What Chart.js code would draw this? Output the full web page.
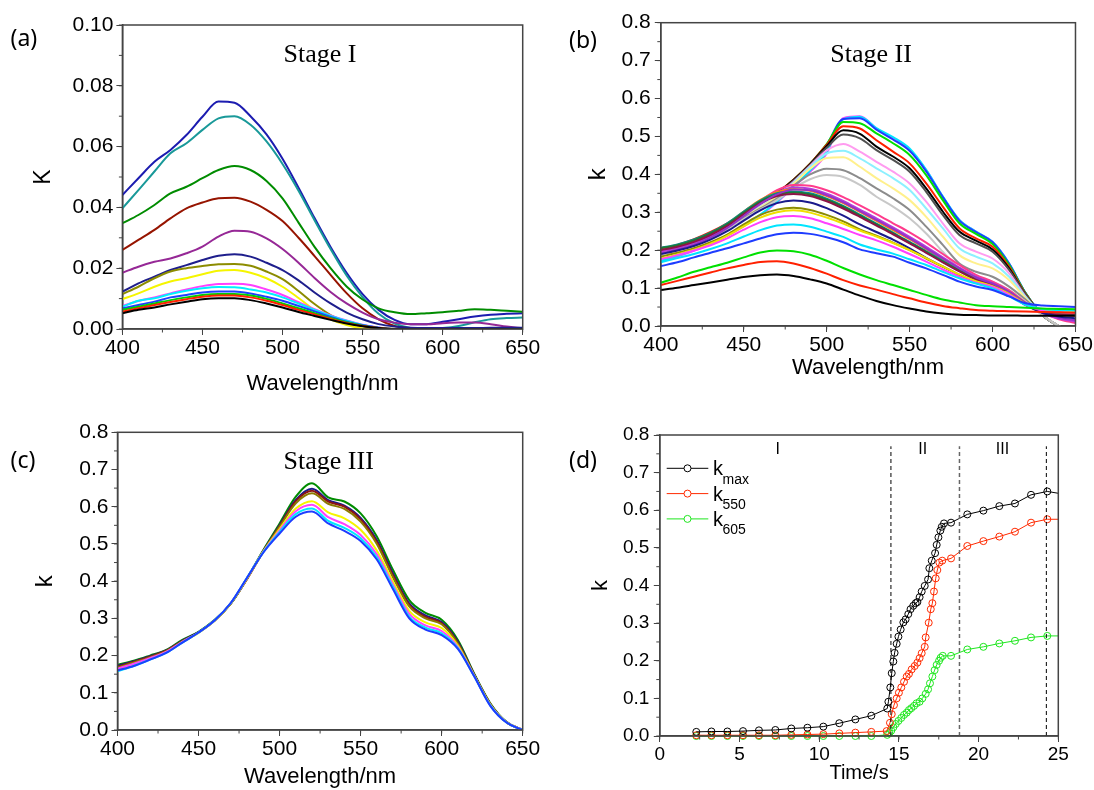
<!DOCTYPE html>
<html><head><meta charset="utf-8">
<script src="https://cdn.jsdelivr.net/npm/chart.js@4.4.1/dist/chart.umd.min.js"></script>
<style>
html,body{margin:0;padding:0;background:#fff;}
#wrap{position:relative;width:1094px;height:790px;overflow:hidden;background:#fff;}
canvas{position:absolute;}
</style></head><body>
<div id="wrap">
<canvas id="ca" width="547" height="400" style="left:0px;top:0px"></canvas>
<canvas id="cb" width="547" height="400" style="left:547px;top:0px"></canvas>
<canvas id="cc" width="547" height="400" style="left:0px;top:390px"></canvas>
<canvas id="cd" width="547" height="400" style="left:547px;top:390px"></canvas>
</div>
<script>
// ---------- DATA ----------
const WL = [400,410,420,430,440,450,460,470,480,490,500,510,520,530,540,550,560,570,580,590,600,610,620,630,640,650];

// (a) Stage I
const aBlack  = [0.0052,0.0063,0.0071,0.0081,0.0090,0.0098,0.0101,0.0101,0.0095,0.0084,0.0071,0.0056,0.0043,0.0030,0.0018,0.0009,0.0003,0,0,0,0,0,0,0,0,0];
const aRed    = [0.0057,0.0068,0.0079,0.0089,0.0098,0.0106,0.0110,0.0110,0.0104,0.0093,0.0079,0.0063,0.0048,0.0033,0.0020,0.0010,0.0003,0,0,0,0,0,0,0,0,0];
const aGreen2 = [0.0063,0.0073,0.0084,0.0095,0.0104,0.0112,0.0115,0.0115,0.0110,0.0099,0.0084,0.0068,0.0052,0.0036,0.0022,0.0011,0.0003,0,0,0,0,0,0,0,0,0];
const aBlue2  = [0.0068,0.0079,0.0090,0.0104,0.0112,0.0120,0.0123,0.0123,0.0117,0.0106,0.0093,0.0076,0.0058,0.0040,0.0024,0.0012,0.0004,0,0,0,0,0,0,0,0,0];
const aCyan   = [0.0073,0.0093,0.0101,0.0115,0.0126,0.0134,0.0138,0.0137,0.0130,0.0120,0.0104,0.0084,0.0063,0.0043,0.0027,0.0013,0.0004,0,0,0,0,0,0,0,0,0];
const aMagenta= [0.0076,0.0092,0.0104,0.0117,0.0130,0.0141,0.0148,0.0149,0.0145,0.0130,0.0112,0.0088,0.0065,0.0045,0.0028,0.0014,0.0005,0,0,0,0,0,0,0,0,0];
const aYellow = [0.0098,0.0117,0.0139,0.0156,0.0167,0.0180,0.0192,0.0194,0.0185,0.0167,0.0139,0.0102,0.0062,0.0032,0.0013,0.0002,0,0,0,0,0,0,0,0,0,0];
const aOlive  = [0.0115,0.0139,0.0167,0.0189,0.0200,0.0207,0.0213,0.0214,0.0208,0.0189,0.0164,0.0125,0.0082,0.0046,0.0024,0.0010,0.0002,0,0,0,0,0,0,0,0,0];
const aNavy   = [0.0123,0.0150,0.0172,0.0194,0.0210,0.0227,0.0241,0.0246,0.0238,0.0218,0.0194,0.0160,0.0120,0.0084,0.0054,0.0032,0.0016,0.0008,0.0004,0.0003,0.0003,0.0003,0.0003,0.0004,0.0004,0.0004];
const aPurple = [0.0185,0.0205,0.0221,0.0232,0.0249,0.0271,0.0304,0.0323,0.0320,0.0298,0.0263,0.0218,0.0168,0.0122,0.0084,0.0054,0.0032,0.0021,0.0016,0.0016,0.0019,0.0021,0.0021,0.0016,0.0008,0.0002];
const aDkRed  = [0.0260,0.0293,0.0326,0.0364,0.0397,0.0416,0.0430,0.0432,0.0419,0.0392,0.0355,0.0300,0.0240,0.0178,0.0118,0.0068,0.0032,0.0010,0.0002,0,0,0,0,0,0,0];
const aGreen  = [0.0348,0.0375,0.0408,0.0446,0.0468,0.0496,0.0523,0.0536,0.0523,0.0487,0.0430,0.0350,0.0270,0.0200,0.0140,0.0097,0.0068,0.0055,0.0049,0.0052,0.0055,0.0060,0.0065,0.0063,0.0060,0.0057];
const aTeal   = [0.0397,0.0457,0.0518,0.0578,0.0611,0.0655,0.0693,0.0700,0.0672,0.0617,0.0543,0.0455,0.0358,0.0263,0.0176,0.0105,0.0050,0.0018,0.0003,0.0000,0.0003,0.0010,0.0022,0.0032,0.0036,0.0038];
const aBlue   = [0.0441,0.0496,0.0550,0.0589,0.0638,0.0698,0.0748,0.0744,0.0700,0.0640,0.0560,0.0465,0.0365,0.0270,0.0185,0.0115,0.0063,0.0030,0.0016,0.0016,0.0024,0.0032,0.0041,0.0047,0.0050,0.0052];

// (b) Stage II
const bBlack   = [0.095,0.101,0.108,0.115,0.122,0.129,0.134,0.136,0.132,0.123,0.112,0.096,0.080,0.066,0.055,0.046,0.038,0.033,0.030,0.029,0.028,0.028,0.027,0.027,0.027,0.027];
const bRed     = [0.108,0.119,0.130,0.141,0.152,0.161,0.169,0.171,0.165,0.153,0.138,0.121,0.107,0.096,0.084,0.073,0.062,0.053,0.047,0.042,0.040,0.039,0.038,0.037,0.036,0.035];
const bGreen   = [0.114,0.128,0.143,0.155,0.167,0.181,0.194,0.199,0.197,0.188,0.172,0.153,0.136,0.121,0.108,0.095,0.082,0.070,0.062,0.055,0.052,0.050,0.048,0.046,0.045,0.044];
const bBlue    = [0.158,0.168,0.181,0.193,0.205,0.218,0.231,0.242,0.246,0.243,0.234,0.221,0.202,0.192,0.183,0.167,0.152,0.135,0.117,0.104,0.095,0.078,0.060,0.054,0.052,0.050];
const bCyan    = [0.168,0.179,0.190,0.203,0.218,0.236,0.253,0.265,0.268,0.262,0.249,0.235,0.215,0.202,0.191,0.176,0.161,0.143,0.126,0.112,0.099,0.078,0.056,0.045,0.042,0.041];
const bMagenta = [0.176,0.187,0.199,0.213,0.231,0.254,0.274,0.287,0.290,0.284,0.271,0.256,0.240,0.226,0.209,0.190,0.170,0.149,0.130,0.114,0.103,0.082,0.056,0.040,0.036,0.035];
const bYellow  = [0.178,0.189,0.201,0.217,0.238,0.263,0.286,0.300,0.305,0.299,0.286,0.270,0.252,0.236,0.219,0.200,0.179,0.157,0.136,0.118,0.105,0.085,0.058,0.042,0.038,0.037];
const bOlive   = [0.183,0.193,0.205,0.221,0.241,0.268,0.293,0.307,0.312,0.306,0.293,0.276,0.255,0.238,0.220,0.200,0.178,0.156,0.135,0.117,0.104,0.084,0.058,0.042,0.040,0.039];
const bNavy    = [0.190,0.199,0.211,0.228,0.250,0.278,0.305,0.324,0.331,0.326,0.311,0.291,0.268,0.248,0.228,0.205,0.180,0.157,0.135,0.116,0.103,0.083,0.055,0.035,0.025,0.020];
const bPurple  = [0.192,0.201,0.214,0.233,0.258,0.290,0.322,0.347,0.360,0.358,0.345,0.326,0.303,0.280,0.256,0.231,0.205,0.178,0.152,0.128,0.112,0.090,0.060,0.036,0.022,0.015];
const bWine    = [0.200,0.209,0.222,0.240,0.264,0.295,0.324,0.343,0.348,0.343,0.329,0.310,0.288,0.265,0.242,0.218,0.193,0.168,0.144,0.122,0.107,0.087,0.058,0.036,0.030,0.028];
const bDkGreen = [0.205,0.213,0.226,0.244,0.268,0.299,0.328,0.347,0.352,0.347,0.333,0.314,0.291,0.268,0.244,0.220,0.195,0.170,0.146,0.124,0.109,0.088,0.058,0.036,0.032,0.030];
const bDkCyan  = [0.206,0.215,0.228,0.246,0.271,0.302,0.331,0.350,0.355,0.350,0.336,0.317,0.294,0.270,0.246,0.222,0.197,0.172,0.148,0.126,0.110,0.089,0.059,0.036,0.033,0.032];
const bOrange  = [0.203,0.212,0.225,0.244,0.269,0.302,0.333,0.353,0.361,0.357,0.343,0.324,0.301,0.277,0.253,0.229,0.203,0.176,0.150,0.127,0.111,0.090,0.060,0.036,0.030,0.028];
const bViolet  = [0.196,0.205,0.218,0.237,0.262,0.295,0.327,0.352,0.365,0.362,0.349,0.330,0.307,0.284,0.260,0.235,0.209,0.181,0.154,0.130,0.113,0.091,0.060,0.035,0.020,0.012];
const bPink    = [0.198,0.207,0.220,0.239,0.264,0.297,0.330,0.358,0.372,0.370,0.358,0.340,0.318,0.295,0.271,0.247,0.220,0.190,0.161,0.135,0.117,0.094,0.062,0.035,0.018,0.008];
const bLtGray    = [0.185,0.199,0.214,0.232,0.255,0.282,0.307,0.332,0.363,0.387,0.398,0.393,0.372,0.341,0.315,0.284,0.244,0.196,0.152,0.130,0.117,0.095,0.064,0.029,0.000,-0.020];
const bGray      = [0.188,0.202,0.217,0.235,0.258,0.285,0.310,0.336,0.370,0.400,0.415,0.411,0.390,0.363,0.337,0.306,0.262,0.214,0.165,0.143,0.130,0.104,0.069,0.029,0.000,-0.020];
const bLtYellow  = [0.190,0.204,0.219,0.237,0.260,0.287,0.313,0.341,0.375,0.415,0.443,0.445,0.420,0.390,0.363,0.332,0.288,0.236,0.187,0.165,0.152,0.121,0.073,0.029,0.000,-0.020];
const bLtCyan    = [0.191,0.205,0.220,0.238,0.261,0.288,0.315,0.343,0.378,0.420,0.455,0.462,0.442,0.416,0.390,0.359,0.310,0.258,0.205,0.183,0.165,0.130,0.076,0.029,0.000,-0.020];
const bLtMagenta = [0.192,0.206,0.221,0.239,0.262,0.289,0.316,0.345,0.380,0.422,0.463,0.480,0.460,0.433,0.407,0.376,0.328,0.271,0.218,0.196,0.178,0.139,0.077,0.029,0.000,-0.020];
const bDkGray    = [0.195,0.209,0.224,0.242,0.265,0.292,0.319,0.348,0.383,0.425,0.470,0.505,0.495,0.464,0.438,0.407,0.354,0.293,0.240,0.218,0.196,0.148,0.082,0.029,0.000,-0.020];
const bBlack2    = [0.200,0.212,0.227,0.245,0.268,0.295,0.322,0.350,0.385,0.427,0.475,0.516,0.507,0.473,0.447,0.416,0.363,0.302,0.249,0.225,0.202,0.152,0.082,0.029,0.000,-0.020];
const bRed2      = [0.205,0.214,0.229,0.248,0.271,0.297,0.324,0.352,0.386,0.428,0.478,0.527,0.521,0.490,0.460,0.429,0.376,0.315,0.258,0.231,0.209,0.156,0.084,0.029,0.000,-0.020];
const bGreen2    = [0.200,0.212,0.227,0.246,0.269,0.296,0.323,0.351,0.386,0.428,0.480,0.538,0.535,0.508,0.482,0.451,0.398,0.332,0.271,0.243,0.216,0.161,0.086,0.029,0.000,-0.020];
const bBlue2     = [0.190,0.203,0.218,0.237,0.260,0.288,0.317,0.347,0.383,0.425,0.478,0.546,0.548,0.518,0.492,0.462,0.408,0.340,0.278,0.248,0.221,0.164,0.086,0.029,0.000,-0.020];
const bCyan2     = [0.172,0.185,0.200,0.218,0.240,0.265,0.294,0.328,0.368,0.410,0.460,0.545,0.552,0.522,0.498,0.468,0.412,0.342,0.280,0.249,0.222,0.165,0.086,0.029,0.000,-0.020];
const bMagenta2  = [0.170,0.183,0.198,0.216,0.238,0.263,0.292,0.326,0.366,0.407,0.455,0.548,0.553,0.521,0.495,0.464,0.411,0.341,0.280,0.249,0.222,0.165,0.086,0.029,0.000,-0.020];

// (c) Stage III
const cBlue    = [0.160,0.172,0.189,0.207,0.235,0.262,0.295,0.342,0.410,0.477,0.528,0.573,0.587,0.555,0.535,0.508,0.458,0.378,0.300,0.270,0.255,0.218,0.145,0.065,0.020,0.0];
const cCyan    = [0.158,0.172,0.189,0.207,0.235,0.262,0.295,0.342,0.410,0.478,0.532,0.580,0.595,0.562,0.543,0.515,0.464,0.384,0.305,0.275,0.260,0.220,0.145,0.066,0.020,0.0];
const cMagenta = [0.165,0.178,0.193,0.210,0.237,0.262,0.295,0.342,0.409,0.479,0.536,0.588,0.605,0.572,0.553,0.524,0.472,0.390,0.312,0.281,0.266,0.223,0.146,0.067,0.021,0.0];
const cYellow  = [0.163,0.176,0.191,0.209,0.236,0.261,0.294,0.341,0.408,0.480,0.540,0.595,0.615,0.585,0.569,0.538,0.482,0.398,0.320,0.289,0.274,0.227,0.147,0.068,0.021,0.0];
const cOlive   = [0.168,0.181,0.195,0.212,0.238,0.262,0.294,0.340,0.407,0.480,0.546,0.609,0.636,0.608,0.594,0.560,0.500,0.410,0.332,0.300,0.284,0.232,0.148,0.070,0.021,0.0];
const cWine    = [0.170,0.183,0.197,0.213,0.239,0.262,0.294,0.340,0.406,0.480,0.548,0.615,0.643,0.614,0.600,0.566,0.505,0.415,0.336,0.304,0.287,0.234,0.149,0.070,0.021,0.0];
const cNavy    = [0.172,0.184,0.198,0.214,0.240,0.263,0.295,0.341,0.408,0.482,0.550,0.618,0.648,0.618,0.603,0.570,0.510,0.420,0.340,0.308,0.290,0.237,0.150,0.070,0.021,0.0];
const cGreen   = [0.175,0.186,0.200,0.215,0.242,0.264,0.296,0.340,0.408,0.484,0.555,0.627,0.663,0.625,0.614,0.582,0.520,0.430,0.349,0.315,0.296,0.242,0.152,0.072,0.022,0.0];

// (d) k vs time
const dTimeMax = [2.29,3.24,4.24,5.22,6.22,7.25,8.25,9.26,10.26,11.26,12.27,13.27,14.27,14.34,14.46,14.55,14.65,14.73,14.86,14.97,15.11,15.28,15.42,15.59,15.73,15.9,16.05,16.16,16.3,16.43,16.62,16.83,16.91,17.06,17.27,17.37,17.48,17.6,17.69,17.83,18.27,19.29,20.3,21.3,22.28,23.29,24.31,25.3];
const dKmax    = [0.011,0.012,0.012,0.013,0.015,0.016,0.020,0.022,0.025,0.034,0.044,0.054,0.073,0.091,0.129,0.167,0.198,0.221,0.245,0.264,0.283,0.302,0.310,0.324,0.337,0.346,0.353,0.356,0.369,0.384,0.399,0.416,0.446,0.466,0.486,0.508,0.528,0.546,0.556,0.565,0.567,0.589,0.599,0.611,0.618,0.641,0.650,0.643];
const dTime550 = [2.29,3.24,4.24,5.22,6.22,7.25,8.25,9.26,10.26,11.26,12.27,13.27,14.23,14.44,14.55,14.69,14.86,15.0,15.15,15.32,15.49,15.63,15.8,15.99,16.16,16.3,16.43,16.62,16.68,16.87,17.0,17.1,17.2,17.31,17.41,17.54,17.72,18.27,19.29,20.3,21.3,22.28,23.29,24.31,25.3];
const dK550    = [0.002,0.002,0.002,0.002,0.002,0.002,0.003,0.004,0.005,0.007,0.009,0.011,0.013,0.035,0.058,0.082,0.100,0.115,0.129,0.144,0.158,0.165,0.177,0.186,0.195,0.207,0.220,0.237,0.262,0.301,0.337,0.353,0.384,0.419,0.441,0.461,0.466,0.472,0.505,0.518,0.530,0.543,0.567,0.576,0.576];
const dTime605 = [2.29,3.24,4.24,5.22,6.22,7.25,8.25,9.26,10.26,11.26,12.27,13.27,14.27,14.4,14.52,14.65,14.8,14.97,15.15,15.32,15.49,15.63,15.78,15.95,16.11,16.3,16.47,16.68,16.83,16.95,17.1,17.24,17.37,17.52,17.62,17.75,18.27,19.29,20.3,21.3,22.28,23.29,24.31,25.3];
const dK605    = [0,0,0,0,0,0,0,0,0,0,0,0,0.003,0.007,0.014,0.023,0.032,0.040,0.048,0.056,0.062,0.069,0.074,0.080,0.087,0.091,0.100,0.112,0.124,0.140,0.158,0.175,0.189,0.200,0.208,0.213,0.213,0.230,0.237,0.246,0.253,0.262,0.266,0.266];
const dStageBounds = [14.5, 18.8, 24.25];
const dStageTop = 0.77;
const dStageNames = ['I','II','III'];
const dStageNameX = [7.4, 16.5, 21.5];
const dStageNameY = 0.76;

// ---------- STYLE ----------
const AX = '#444';
const SANS = "'Liberation Sans', Arial, sans-serif";
const SERIF = "'Liberation Serif', 'Times New Roman', serif";
const LBL = "'Noto Sans', 'Open Sans', sans-serif";

const boxPlugin = {
  id: 'box',
  afterDraw(chart, args, o) {
    const {ctx, chartArea: a, scales} = chart;
    const x = scales.x, y = scales.y;
    ctx.save();
    ctx.strokeStyle = AX;
    ctx.lineWidth = 1;
    ctx.beginPath();
    const nx = Math.round((x.max - x.min) / o.xMinor);
    for (let i = 0; i <= nx; i++) {
      const px = x.getPixelForValue(x.min + i * o.xMinor);
      ctx.moveTo(px, a.bottom); ctx.lineTo(px, a.bottom + 3.5);
    }
    const ny = Math.round((y.max - y.min) / o.yMinor);
    for (let i = 0; i <= ny; i++) {
      const py = y.getPixelForValue(y.min + i * o.yMinor);
      ctx.moveTo(a.left, py); ctx.lineTo(a.left - 3.5, py);
    }
    ctx.stroke();
    ctx.lineWidth = 1.5;
    ctx.strokeRect(a.left, a.top, a.right - a.left, a.bottom - a.top);
    ctx.fillStyle = '#000';
    ctx.textBaseline = 'alphabetic';
    (o.texts || []).forEach(t => {
      ctx.font = t.font; ctx.textAlign = t.align || 'left';
      ctx.fillText(t.text, t.x, t.y);
    });
    (o.dataTexts || []).forEach(t => {
      ctx.font = t.font; ctx.textAlign = 'center'; ctx.textBaseline = 'middle';
      ctx.fillText(t.text, x.getPixelForValue(t.x), y.getPixelForValue(t.y));
    });
    if (o.legend) {
      const L = o.legend;
      L.rows.forEach((r, i) => {
        const yy = L.y + i * L.dy;
        ctx.strokeStyle = r.color; ctx.lineWidth = 1;
        ctx.beginPath();
        ctx.moveTo(L.x0, yy); ctx.lineTo(L.cx - L.r, yy);
        ctx.moveTo(L.cx + L.r, yy); ctx.lineTo(L.x1, yy);
        ctx.stroke();
        ctx.beginPath(); ctx.arc(L.cx, yy, L.r, 0, Math.PI * 2); ctx.stroke();
        ctx.fillStyle = '#000'; ctx.textAlign = 'left'; ctx.textBaseline = 'alphabetic';
        ctx.font = L.font; ctx.fillText(r.label, L.tx, yy + 7);
        ctx.font = L.subFont; ctx.fillText(r.sub, L.tx + 9.5, yy + 15.5);
      });
    }
    ctx.restore();
  }
};

function axisCommon(font, pad) {
  return {
    grid: {drawOnChartArea: false, drawTicks: true, tickLength: 6, color: AX, lineWidth: 1},
    border: {display: true, color: AX, width: 1.5},
    ticks: {font: {family: SANS, size: font}, color: '#000', padding: pad, autoSkip: false, maxRotation: 0}
  };
}

function makeChart(id, g, datasets, sc, boxOpts) {
  const xc = axisCommon(sc.xFont, sc.xPad);
  const yc = axisCommon(sc.yFont, sc.yPad);
  return new Chart(document.getElementById(id), {
    type: 'line',
    data: {datasets},
    options: {
      responsive: false, animation: false, devicePixelRatio: 1, events: [],
      layout: {padding: {left: 0, top: g.top, right: g.right, bottom: 0}},
      plugins: {legend: {display: false}, tooltip: {enabled: false}, box: boxOpts},
      scales: {
        x: Object.assign(xc, {
          type: 'linear', min: sc.xMin, max: sc.xMax,
          afterFit: s => { s.height = g.xh; },
          ticks: Object.assign(xc.ticks, {stepSize: sc.xStep}),
          title: {display: true, text: sc.xTitle, color: '#000', font: {family: SANS, size: sc.xtSize}, padding: {top: 0, bottom: sc.xtPad}}
        }),
        y: Object.assign(yc, {
          type: 'linear', min: sc.yMin, max: sc.yMax,
          afterFit: s => { s.width = g.left; },
          ticks: Object.assign(yc.ticks, {stepSize: sc.yStep, callback: v => v.toFixed(sc.yDec)}),
          title: {display: true, text: sc.yTitle, color: '#000', font: {family: SANS, size: sc.ytSize}, padding: {top: sc.ytPad, bottom: 0}}
        })
      }
    },
    plugins: [boxPlugin]
  });
}

function spec(series) {
  return series.map(s => ({
    data: WL.map((w, i) => ({x: w, y: s[0][i]})),
    borderColor: s[1], borderWidth: 2, pointRadius: 0, fill: false,
    cubicInterpolationMode: 'monotone'
  }));
}

// (a)
makeChart('ca', {top: 25, right: 24.3, left: 122.4, xh: 71},
  spec([[aBlack,'#000000'],[aRed,'#ff2000'],[aGreen2,'#00d000'],[aBlue2,'#2040ff'],[aCyan,'#00f0ff'],[aMagenta,'#ff40ff'],
        [aYellow,'#f5f500'],[aOlive,'#8c8c00'],[aNavy,'#1e1e8c'],[aPurple,'#962896'],[aDkRed,'#961400'],[aGreen,'#008c00'],
        [aTeal,'#199999'],[aBlue,'#1c1cb0']]),
  {xMin: 400, xMax: 650, xStep: 50, yMin: 0, yMax: 0.1, yStep: 0.02, yDec: 2, xFont: 21, yFont: 21, xPad: 1, yPad: 3,
   xTitle: 'Wavelength/nm', xtSize: 22, xtPad: 2.8, yTitle: 'K', ytSize: 23, ytPad: 29.9},
  {xMinor: 25, yMinor: 0.01, texts: [
    {text: '(a)', x: 10.5, y: 46, font: "23px " + LBL},
    {text: 'Stage I', x: 320, y: 62, font: "26px " + SERIF, align: 'center'}]});

// (b)
makeChart('cb', {top: 22.7, right: 18, left: 113.8, xh: 74},
  spec([[bBlack,'#000000'],[bRed,'#ff2000'],[bGreen,'#00e000'],[bBlue,'#1e3cff'],[bCyan,'#00e5ff'],[bMagenta,'#ff40ff'],
        [bYellow,'#f0e000'],[bOlive,'#8c8c00'],[bNavy,'#1a1a8c'],[bPurple,'#9632c8'],[bWine,'#8c1446'],[bDkGreen,'#1e7832'],
        [bDkCyan,'#0a8c8c'],[bOrange,'#ff8c00'],[bViolet,'#b43cdc'],[bPink,'#ff3c8c'],
        [bLtGray,'#c8c8c8'],[bGray,'#8c8c8c'],[bLtYellow,'#fff08c'],[bLtCyan,'#8cf0ff'],[bLtMagenta,'#ff9cf0'],[bDkGray,'#505050'],
        [bBlack2,'#000000'],[bRed2,'#ff2000'],[bGreen2,'#00e000'],[bBlue2,'#1e3cff'],[bCyan2,'#00e5ff'],[bMagenta2,'#ff40ff']]),
  {xMin: 400, xMax: 650, xStep: 50, yMin: 0, yMax: 0.8, yStep: 0.1, yDec: 1, xFont: 21, yFont: 21, xPad: 1, yPad: 4,
   xTitle: 'Wavelength/nm', xtSize: 22, xtPad: 19.3, yTitle: 'k', ytSize: 24, ytPad: 36.6},
  {xMinor: 25, yMinor: 0.05, texts: [
    {text: '(b)', x: 22, y: 48, font: "23px " + LBL},
    {text: 'Stage II', x: 324, y: 62, font: "26px " + SERIF, align: 'center'}]});

// (c)
makeChart('cc', {top: 42.3, right: 24.3, left: 117.5, xh: 60},
  spec([[cBlue,'#1e3cff'],[cCyan,'#00e8ff'],[cMagenta,'#ff40ff'],[cYellow,'#f5f500'],[cOlive,'#8c7a00'],
        [cWine,'#8c1414'],[cNavy,'#1a1a8c'],[cGreen,'#008c00']]),
  {xMin: 400, xMax: 650, xStep: 50, yMin: 0, yMax: 0.8, yStep: 0.1, yDec: 1, xFont: 21, yFont: 21, xPad: 1, yPad: 3,
   xTitle: 'Wavelength/nm', xtSize: 22, xtPad: 0, yTitle: 'k', ytSize: 24, ytPad: 31.1},
  {xMinor: 25, yMinor: 0.05, texts: [
    {text: '(c)', x: 10.5, y: 78, font: "23px " + LBL},
    {text: 'Stage III', x: 328.7, y: 79, font: "26px " + SERIF, align: 'center'}]});

// (d)
function series(t, k, color) {
  return {data: t.map((v, i) => ({x: v, y: k[i]})), borderColor: color, borderWidth: 1,
    pointRadius: 3.5, pointBorderWidth: 1, pointBorderColor: color, pointBackgroundColor: 'rgba(255,255,255,0)',
    tension: 0, fill: false, clip: {left: 5, top: 5, right: 0, bottom: 5}};
}
const dDatasets = dStageBounds.map((b, i) => ({
  data: [{x: b, y: 0}, {x: b, y: dStageTop}], borderColor: i === 1 ? '#666' : '#000',
  borderWidth: i === 1 ? 1.5 : 1, borderDash: [4, 3], pointRadius: 0, fill: false
})).concat([series(dTimeMax, dKmax, '#000000'), series(dTime550, dK550, '#ff2a00'), series(dTime605, dK605, '#1ee61e')]);

makeChart('cd', {top: 45, right: 35.7, left: 112.8, xh: 54}, dDatasets,
  {xMin: 0, xMax: 25, xStep: 5, yMin: 0, yMax: 0.8, yStep: 0.1, yDec: 1, xFont: 19, yFont: 19, xPad: 1, yPad: 4.5,
   xTitle: 'Time/s', xtSize: 20, xtPad: 4.8, yTitle: 'k', ytSize: 22, ytPad: 40.8},
  {xMinor: 2.5, yMinor: 0.05,
   texts: [{text: '(d)', x: 22, y: 78, font: "23px " + LBL}],
   dataTexts: dStageNames.map((n, i) => ({text: n, x: dStageNameX[i], y: dStageNameY, font: "16px " + SANS})),
   legend: {x0: 119.7, x1: 161.3, cx: 140.5, r: 3.5, y: 78.3, dy: 25.3, tx: 166,
     font: "20px " + SANS, subFont: "14px " + SANS,
     rows: [{label: 'k', sub: 'max', color: '#000000'}, {label: 'k', sub: '550', color: '#ff2a00'}, {label: 'k', sub: '605', color: '#1ee61e'}]}});
</script>
</body></html>
